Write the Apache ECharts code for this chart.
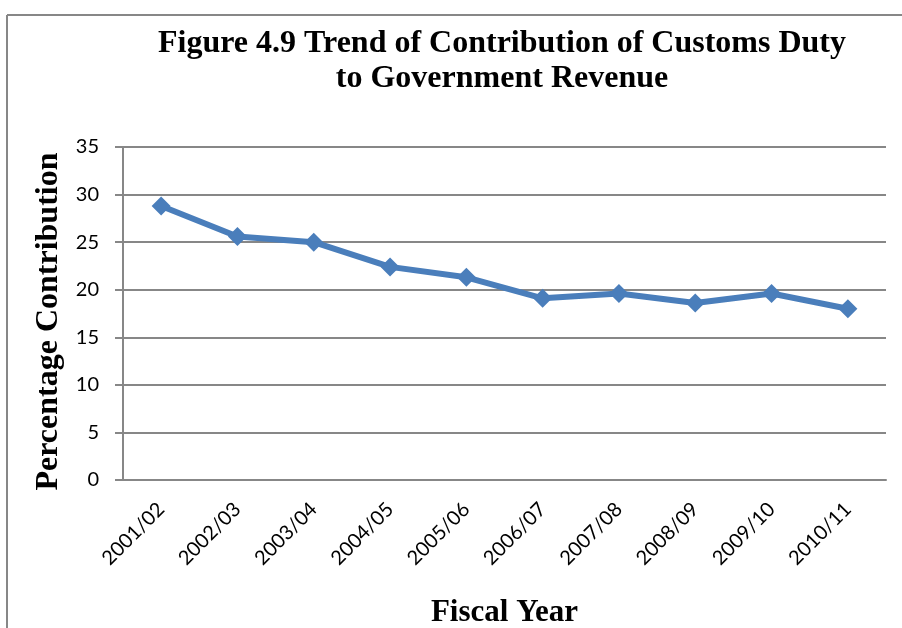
<!DOCTYPE html>
<html>
<head>
<meta charset="utf-8">
<script src="https://cdn.jsdelivr.net/npm/echarts@6/dist/echarts.min.js"></script>
<style>
  html, body { margin: 0; padding: 0; background: #fff; }
  #chart { width: 902px; height: 628px; }
</style>
</head>
<body>
<div id="chart"></div>
<script>
// fiscal years on the x axis
const years = ['2001/02', '2002/03', '2003/04', '2004/05', '2005/06',
  '2006/07', '2007/08', '2008/09', '2009/10', '2010/11']
// customs duty share of government revenue (%)
const contribution = [28.8, 25.6, 25.0, 22.4, 21.3, 19.1, 19.6, 18.6, 19.6, 18.0]
const yTicks = [0, 5, 10, 15, 20, 25, 30, 35]

const chart = echarts.init(document.getElementById('chart'))
const gray = '#878787'

chart.setOption({
  animation: false,
  title: {
    text: 'Figure 4.9 Trend of Contribution of Customs Duty\nto Government Revenue',
    left: 497,
    top: 21,
    textAlign: 'center',
    textStyle: {
      fontFamily: 'Liberation Serif',
      fontWeight: 'bold',
      fontSize: 32,
      lineHeight: 35,
      color: '#000'
    }
  },
  graphic: [
    // chart-area border (only top and left are inside the picture)
    { type: 'line', shape: { x1: 7, y1: 15, x2: 902, y2: 15 }, style: { stroke: gray, lineWidth: 2 } },
    { type: 'line', shape: { x1: 7, y1: 15, x2: 7, y2: 628 }, style: { stroke: gray, lineWidth: 2 } }
  ],
  grid: {
    left: 123, right: 16, top: 147, height: 333,
    containLabel: false,
    outerBoundsMode: 'none'
  },
  xAxis: {
    type: 'category',
    data: years,
    boundaryGap: true,
    name: 'Fiscal Year',
    nameLocation: 'middle',
    nameGap: 117,
    nameTextStyle: { fontFamily: 'Liberation Serif', fontWeight: 'bold', fontSize: 31, color: '#000' },
    axisLine: { lineStyle: { color: gray, width: 2 } },
    axisTick: { show: false },
    axisLabel: { rotate: 45, margin: 26, fontFamily: 'Lato', fontSize: 20, color: '#000' }
  },
  yAxis: {
    type: 'value',
    min: yTicks[0],
    max: yTicks[yTicks.length - 1],
    interval: 5,
    name: 'Percentage Contribution',
    nameLocation: 'middle',
    nameGap: 58,
    nameTextStyle: {
      fontFamily: 'Liberation Serif', fontWeight: 'bold', fontSize: 32, color: '#000',
      padding: [0, 16, 0, 0]
    },
    axisLine: { show: true, lineStyle: { color: gray, width: 2 } },
    axisTick: { show: true, length: 8, lineStyle: { color: gray, width: 2 } },
    splitLine: { lineStyle: { color: gray, width: 2 } },
    axisLabel: { margin: 24, fontFamily: 'Lato', fontSize: 20, color: '#000' }
  },
  series: [{
    type: 'line',
    data: contribution,
    symbol: 'diamond',
    symbolSize: 19,
    lineStyle: { color: '#4A7EBB', width: 6 },
    itemStyle: { color: '#4A7EBB' }
  }]
})
</script>
</body>
</html>
